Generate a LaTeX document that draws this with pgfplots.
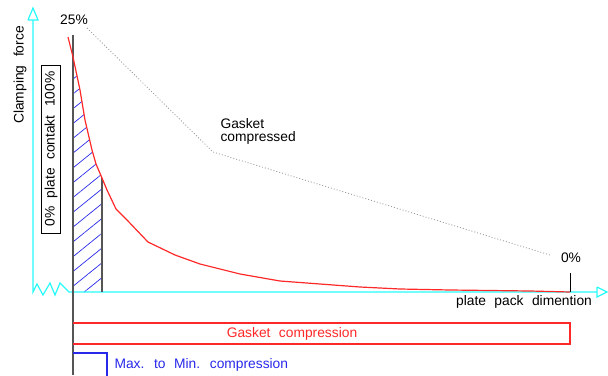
\documentclass[border=0pt]{standalone}
\usepackage{pgfplots}
\pgfplotsset{compat=1.18}
\usepackage{fontspec}
\setmainfont{Liberation Sans}[WordSpace=2.2]
\usetikzlibrary{patterns.meta}
\definecolor{cadcyan}{RGB}{40,250,250}
\definecolor{cadred}{RGB}{255,40,40}
\definecolor{cadblue}{RGB}{40,40,235}
\definecolor{cadgray}{RGB}{85,85,85}
\newcommand\cad{\fontsize{13.8}{16}\selectfont}
\begin{document}
\begin{tikzpicture}
\begin{axis}[
  scale only axis, width=608pt, height=375pt,
  xmin=0, xmax=608, ymin=0, ymax=375, y dir=reverse,
  hide axis, clip=false,
]
% hatched region
\addplot[draw=none, pattern={Lines[angle=39,distance=11.5pt,line width=0.7pt]}, pattern color=cadblue]
  coordinates {(73,57) (80,90) (85,120) (92,150) (96,164) (102,178) (102,292) (73,292)} -- cycle;
% cyan y axis with zigzag and x axis
\addplot[cadcyan, line width=1.2pt] coordinates {(33,20) (33,292) (37,284) (43,295) (50,283) (55,295) (60,283) (69,292) (597,292)};
\addplot[cadcyan, line width=1.2pt] coordinates {(28,20) (33,8) (38,20) (28,20)};
\addplot[cadcyan, line width=1.2pt] coordinates {(597,287) (607,292) (597,297) (597,287)};
% gray vertical lines
\addplot[cadgray, line width=1.4pt] coordinates {(73,35) (73,375)};
\addplot[cadgray, line width=1.4pt] coordinates {(102,178) (102,292)};
% black tick at 0%
\addplot[black, line width=1pt] coordinates {(570,273) (570,292)};
% dotted gasket compressed line
\addplot[gray!80, line width=0.8pt, dash pattern=on 1pt off 2pt] coordinates {(87,28) (213,152) (550,255)};
% red clamping curve
\addplot[cadred, line width=1.2pt] coordinates {(68,37) (73,57) (80,90) (85,120) (92,150) (96,164) (102,178) (107,190) (116,209) (127,220) (148,242) (175,255) (200,264) (240,274) (280,281) (320,284) (360,287) (400,289) (450,290) (530,291) (570,292)};
% box around rotated label
\addplot[black, line width=0.8pt] coordinates {(41,65) (60,65) (60,233) (41,233) (41,65)};
% red rectangle
\addplot[cadred, line width=1.2pt] coordinates {(73,323) (570,323) (570,344) (73,344)};
% blue rectangle (cut at the bottom edge)
\addplot[cadblue, line width=1.2pt] coordinates {(73,353) (107,353) (107,376)};
% texts
\node[font=\cad, rotate=90] at (axis cs:20,75) {Clamping force};
\node[font=\cad, rotate=90] at (axis cs:51,149) {0\% plate contakt 100\%};
\node[font=\cad] at (axis cs:74,20) {25\%};
\node[font=\cad] at (axis cs:571,258) {0\%};
\node[font=\cad, align=left, anchor=west] at (axis cs:217,131) {Gasket\\[-3pt]compressed};
\node[font=\cad] at (axis cs:524,302) {plate pack dimention};
\node[font=\cad, text=cadred] at (axis cs:292,334) {Gasket compression};
\node[font=\cad, text=cadblue, anchor=west] at (axis cs:111,365) {Max. to Min. compression};
\end{axis}
\pgfresetboundingbox
\path (current axis.south west) rectangle (current axis.north east);
\end{tikzpicture}
\end{document}
